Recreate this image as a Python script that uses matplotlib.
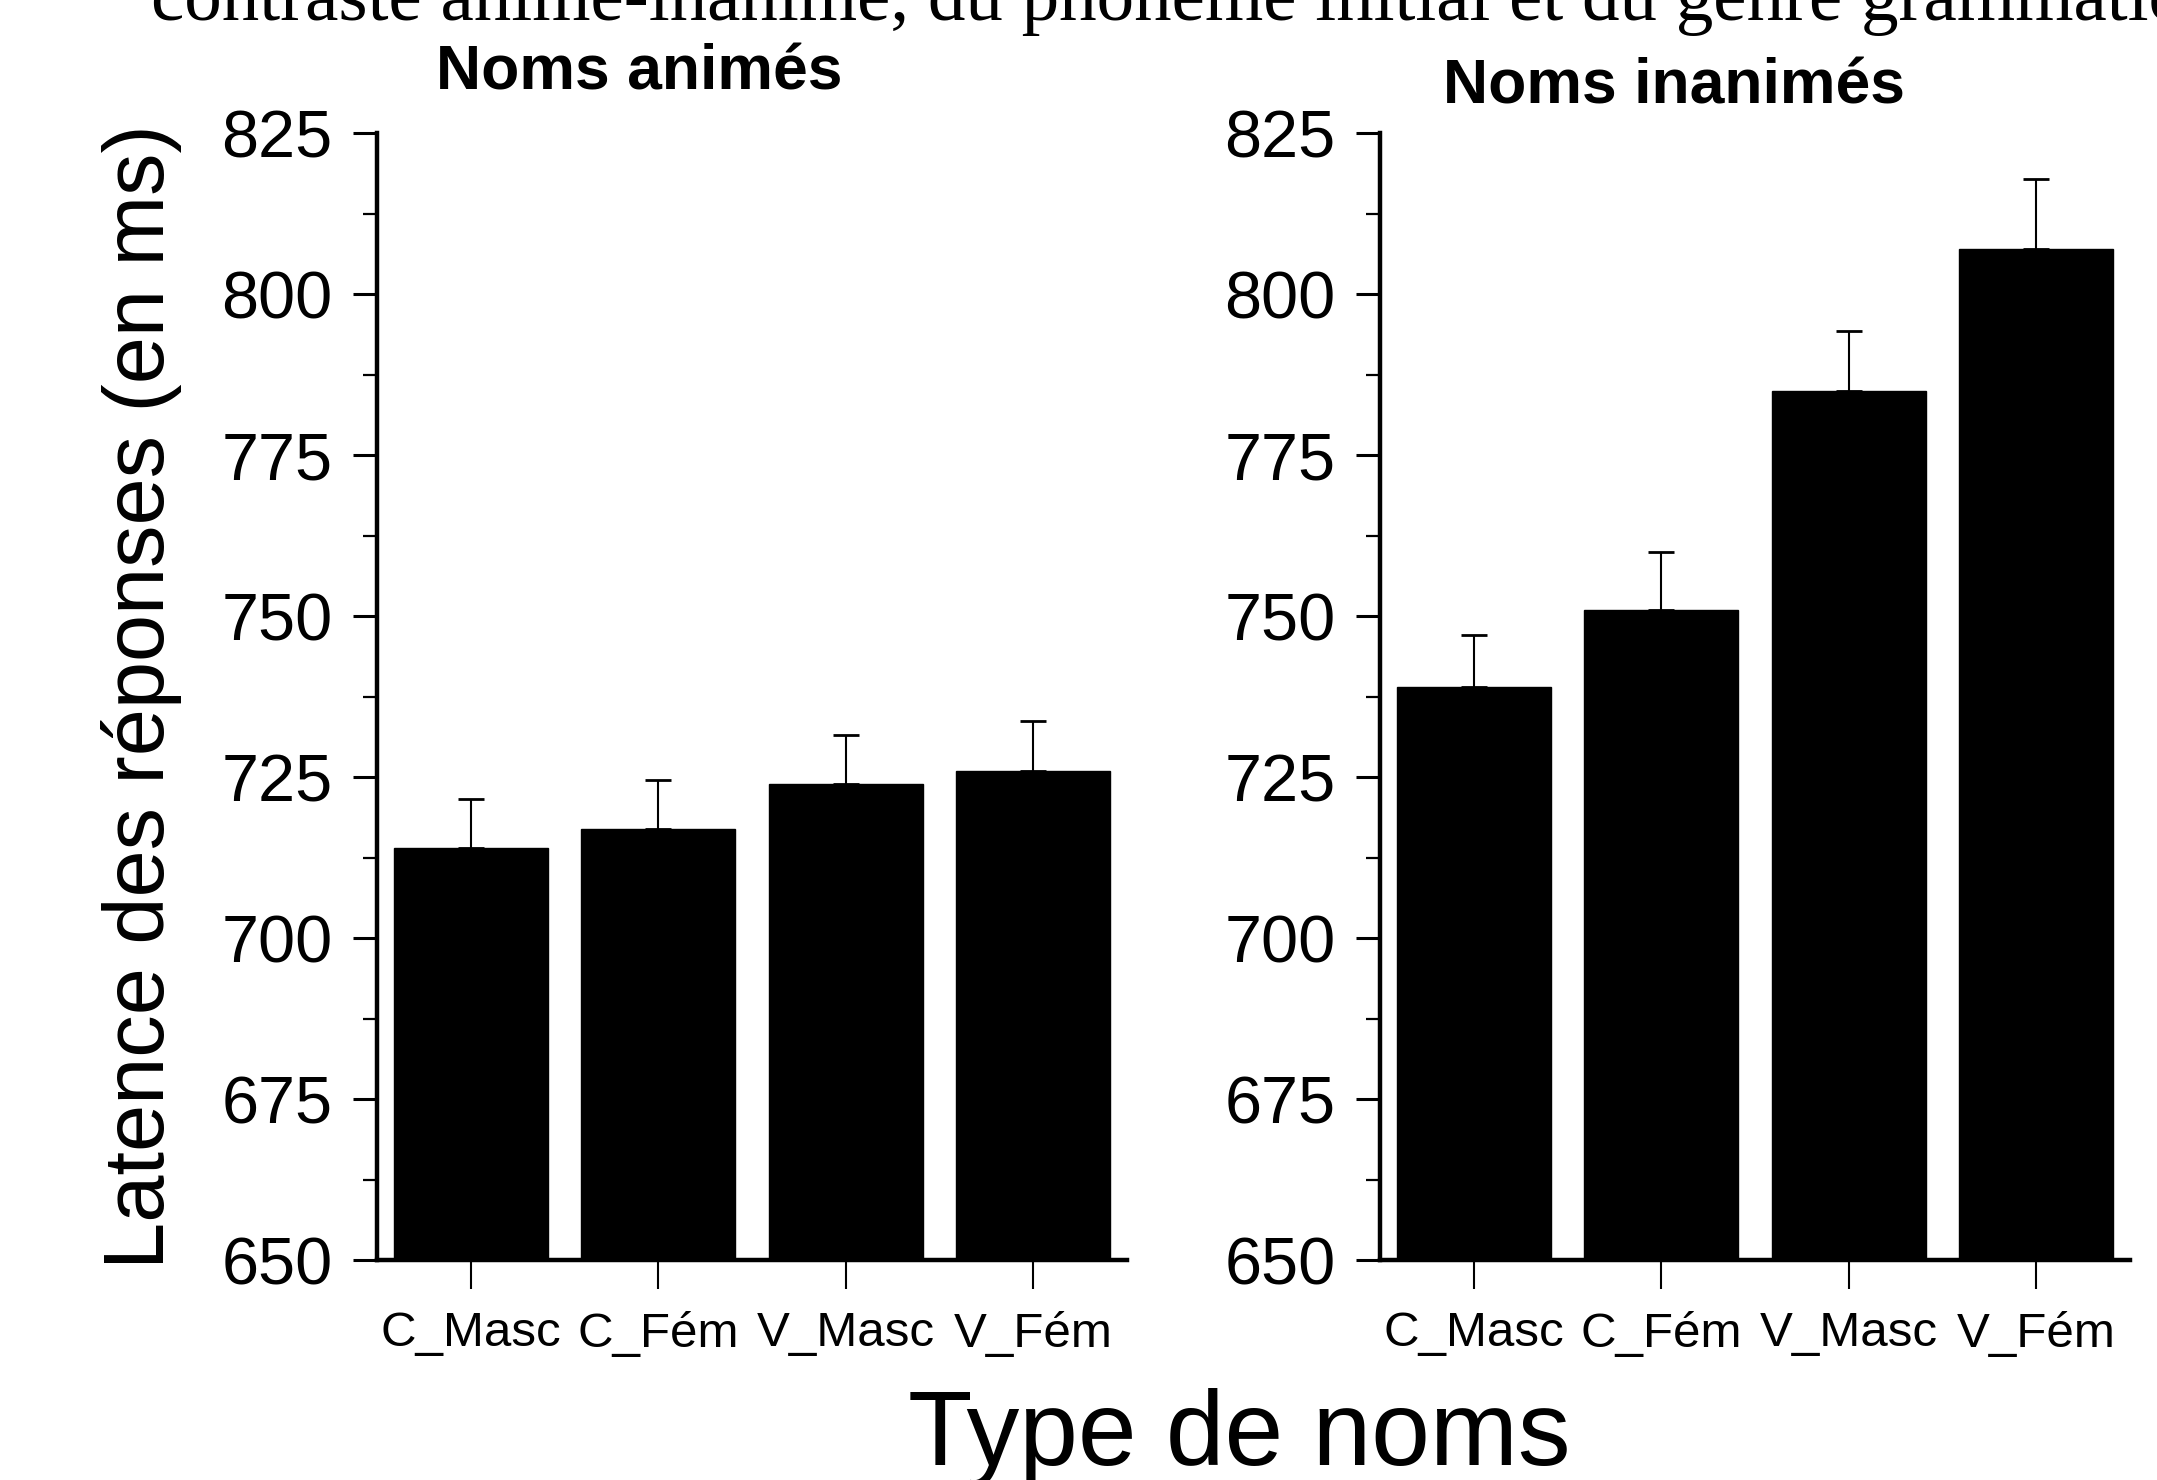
import matplotlib
matplotlib.use('Agg')
import matplotlib.pyplot as plt
from matplotlib.ticker import MultipleLocator

CATEGORIES = ['C_Masc', 'C_Fém', 'V_Masc', 'V_Fém']
ANIMES = [714, 717, 724, 726]
ANIMES_ERR = [7.6, 7.6, 7.6, 7.7]
INANIMES = [739, 751, 785, 807]
INANIMES_ERR = [8.1, 8.9, 9.3, 10.8]

TITLES = ['Noms animés', 'Noms inanimés']
HEADER = 'contraste animé-inanimé, du phonème initial et du genre grammatical'

plt.rcParams['font.family'] = ['Liberation Sans', 'DejaVu Sans']


def draw_panel(ax, values, errors):
    x = range(len(CATEGORIES))
    ax.bar(x, values, width=0.82, color='black', edgecolor='black',
           yerr=[[0] * len(errors), errors],
           error_kw=dict(ecolor='black', elinewidth=1.5, capsize=9.5, capthick=2))
    ax.set_xlim(-0.5, 3.5)
    ax.set_ylim(650, 825)
    ax.set_xticks(list(x))
    ax.set_xticklabels(CATEGORIES, fontsize=35.5)
    ax.yaxis.set_major_locator(MultipleLocator(25))
    ax.yaxis.set_minor_locator(MultipleLocator(12.5))
    ax.tick_params(axis='y', which='major', labelsize=48, length=17, width=2.2, pad=15)
    ax.tick_params(axis='y', which='minor', length=10, width=1.6)
    ax.tick_params(axis='x', which='major', length=21, width=1.5, pad=16)
    for side in ['top', 'right']:
        ax.spines[side].set_visible(False)
    for side in ['left', 'bottom']:
        ax.spines[side].set_linewidth(3.2)


def main():
    fig = plt.figure(figsize=(21.57, 14.80), dpi=100)
    ax1 = fig.add_axes([0.1748, 0.1486, 0.3477, 0.7615])
    ax2 = fig.add_axes([0.6398, 0.1486, 0.3477, 0.7615])
    draw_panel(ax1, ANIMES, ANIMES_ERR)
    draw_panel(ax2, INANIMES, INANIMES_ERR)

    fig.text(639 / 2157, 1 - 89 / 1480, TITLES[0], fontsize=45, fontweight='bold',
             ha='center', va='baseline')
    fig.text(1674 / 2157, 1 - 103 / 1480, TITLES[1], fontsize=45, fontweight='bold',
             ha='center', va='baseline')
    fig.text(142 / 2157, 0.529, 'Latence des réponses (en ms)', fontsize=61,
             rotation=90, ha='center', va='center')
    fig.text(0.5745, 1 - 1465 / 1480, 'Type de noms', fontsize=76,
             ha='center', va='baseline')
    fig.text(151 / 2157, 1 - 20 / 1480, HEADER, fontsize=54,
             family=['Liberation Serif', 'DejaVu Serif'], ha='left', va='baseline')

    fig.savefig('out.png', dpi=100)


if __name__ == "__main__":
    main()
